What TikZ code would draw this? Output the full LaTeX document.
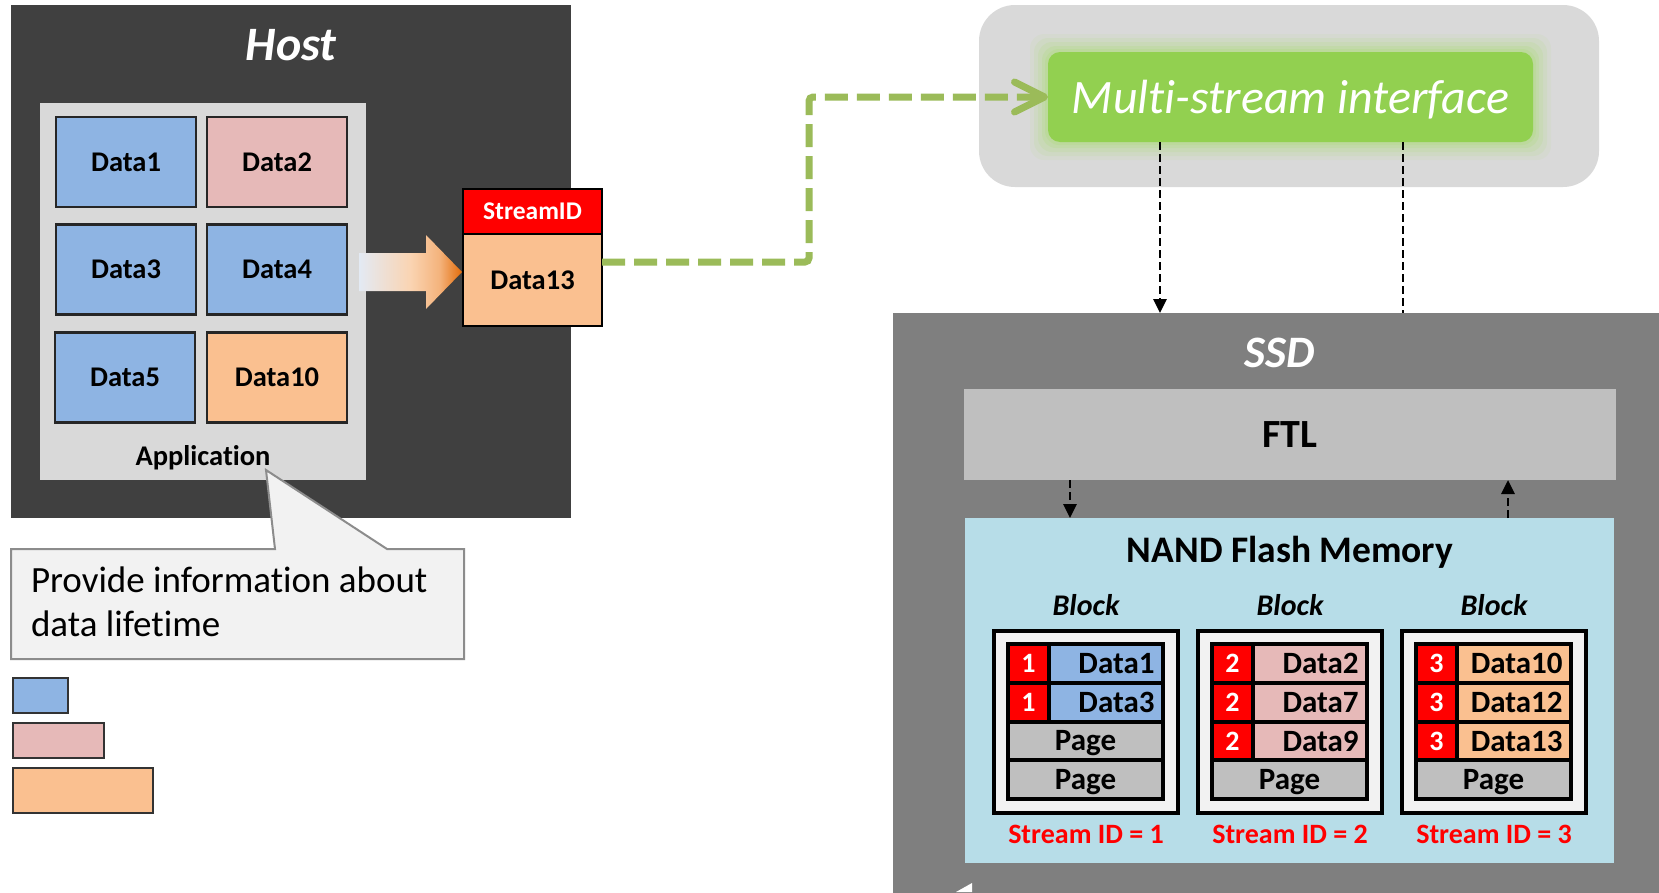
\documentclass[tikz,border=0pt]{standalone}
\usepackage{fontspec}
\setmainfont{Carlito}[Ligatures=NoCommon]
\usetikzlibrary{arrows.meta,calc}

\definecolor{hostbg}{HTML}{404040}
\definecolor{appbg}{HTML}{D9D9D9}
\definecolor{dblue}{HTML}{8EB4E3}
\definecolor{dpink}{HTML}{E6B9B8}
\definecolor{dorange}{HTML}{FAC090}
\definecolor{boxline}{HTML}{262626}
\definecolor{ssdbg}{HTML}{7F7F7F}
\definecolor{ftlbg}{HTML}{BFBFBF}
\definecolor{nandbg}{HTML}{B7DDE8}
\definecolor{blockbg}{HTML}{F2F2F2}
\definecolor{msgray}{HTML}{D9D9D9}
\definecolor{msgreen}{HTML}{92D050}
\definecolor{glowgreen}{HTML}{B5D98A}
\definecolor{linkgreen}{HTML}{9BBB59}
\definecolor{calloutbg}{HTML}{F2F2F2}
\definecolor{calloutline}{HTML}{8C8C8C}
\definecolor{legline}{HTML}{333333}
\definecolor{arrowpale}{HTML}{E3EAF4}
\definecolor{arrowmid}{HTML}{FAD4B2}
\definecolor{arrowpeach}{HTML}{F4B37C}
\definecolor{arroworange}{HTML}{E46C0A}

% fill of the wide arrow from the application to the tagged write
\pgfdeclarehorizontalshading{hintarrow}{100bp}{%
  color(0bp)=(arrowpale); color(25bp)=(arrowpale);
  color(50bp)=(arrowmid); color(64bp)=(arrowpeach);
  color(75bp)=(arroworange); color(100bp)=(arroworange)}

\newcommand\fsz[1]{\fontsize{#1}{#1}\selectfont}

% one stream-tagged page: red stream number + coloured data cell
\newcommand\datarow[6]{%
  \node[datacell, fill=#6] (#1d) at (#2+112,#3) {#5};
  \node[numcell] (#1n) at (#2+34.5,#3) {#4};
}
% one free page spanning the whole row
\newcommand\pagerow[3]{%
  \node[pagecell] (#1p) at (#2+91.5,#3) {Page};
}

\begin{document}
\begin{tikzpicture}[x=1pt,y=-1pt,
  every node/.style={inner sep=0pt,outer sep=0pt},
  box/.style 2 args={minimum width=#1,minimum height=#2},
  appdata/.style={draw=boxline,line width=2.5pt,box={140pt}{90pt},font=\bfseries\fsz{28.5}},
  legbar/.style={draw=legline,line width=2.5pt},
  blockbox/.style={draw=black,line width=3.5pt,fill=blockbg,box={184pt}{182pt}},
  numcell/.style={draw=black,line width=4pt,fill=red,text=white,font=\bfseries\fsz{28},box={41pt}{38.75pt},text depth=0pt},
  datacell/.style={draw=black,line width=4pt,box={114pt}{38.75pt},font=\bfseries\fsz{31},text width=97pt,align=right,text depth=0pt},
  pagecell/.style={draw=black,line width=4pt,fill=ftlbg,box={155pt}{38.75pt},font=\bfseries\fsz{31},text depth=0pt},
  blocklabel/.style={font=\bfseries\itshape\fsz{30},anchor=base},
  streamlabel/.style={font=\bfseries\fsz{28},text=red,anchor=base},
  greenlink/.style={draw=linkgreen,line width=7pt,dash pattern=on 23pt off 9pt,rounded corners=4pt,
    -{Straight Barb[length=30pt,width=30pt,line cap=round,line join=round]}},
  blackdash/.style={draw=black,line width=2.8pt,dash pattern=on 8pt off 4pt},
  tri/.style={-{Triangle[length=14pt,width=13pt]}}]

\useasboundingbox (0,0) rectangle (1659,892);
\fill[white] (0,0) rectangle (1659,892);

% ---------------- host side ----------------
\node[fill=hostbg,box={560pt}{513pt}] (host) at (291,261.5) {};
\node[text=white,font=\bfseries\itshape\fsz{48},anchor=base] (hosttitle) at (291,60) {Host};

\node[fill=appbg,box={326pt}{377pt}] (app) at (203,291.5) {};
\node[font=\bfseries\fsz{28.5},anchor=base] (applabel) at (203,465) {Application};

\node[appdata,fill=dblue]   (a1)  at (126,162)   {Data1};
\node[appdata,fill=dpink]   (a2)  at (277,162)   {Data2};
\node[appdata,fill=dblue]   (a3)  at (126,269.5) {Data3};
\node[appdata,fill=dblue]   (a4)  at (277,269.5) {Data4};
\node[appdata,fill=dblue]   (a5)  at (125,377.5) {Data5};
\node[appdata,fill=dorange] (a10) at (277,377.5) {Data10};

% tagged write leaving the application
\node[draw=black,line width=2.5pt,fill=red,text=white,box={139pt}{45pt},font=\bfseries\fsz{25.5}] (sid) at (532.5,211.5) {StreamID};
\node[draw=black,line width=2.5pt,fill=dorange,box={139pt}{92pt},font=\bfseries\fsz{28.5}] (d13) at (532.5,280) {Data13};

\shade[shading=hintarrow] (359,253) -- (426,253) -- (426,235) -- (462,272) -- (426,309) -- (426,291) -- (359,291) -- cycle;

% callout under the application
\draw[fill=calloutbg,draw=calloutline,line width=2pt]
  (11,549) -- (275,549) -- (266,470) -- (387,549) -- (464,549) -- (464,659) -- (11,659) -- cycle;
\node[anchor=north west,align=left,font=\fontsize{37}{44}\selectfont] (note) at (31,567)
  {Provide information about\\data lifetime};

% lifetime legend bars
\node[legbar,fill=dblue,box={55pt}{35pt}]   (legblue)   at (40.5,695.5) {};
\node[legbar,fill=dpink,box={91pt}{35pt}]   (legpink)   at (58.5,740.5) {};
\node[legbar,fill=dorange,box={140pt}{45pt}] (legorange) at (83,790.5) {};

% ---------------- multi-stream interface ----------------
\node[fill=msgray,rounded corners=36pt,box={620pt}{182pt}] (msbg) at (1289,96) {};
\foreach \g/\o in {18/0.10,14/0.16,10/0.22,6/0.30,3/0.40}
  \fill[glowgreen,opacity=\o,rounded corners=14pt] (1048-\g,52-\g) rectangle (1533+\g,142+\g);
\node[fill=msgreen,rounded corners=12pt,box={485pt}{90pt},text=white,font=\itshape\fsz{48},text depth=0pt] (ms) at (1290.5,97) {Multi-stream interface};

% ---------------- SSD ----------------
\node[fill=ssdbg,box={780pt}{590pt},anchor=north west] (ssd) at (893,313) {};
\fill[white] (956,892) -- (972,883) -- (972,892) -- cycle;
\node[text=white,font=\bfseries\itshape\fsz{45},anchor=base] (ssdtitle) at (1280,367) {SSD};

\node[fill=ftlbg,box={652pt}{91pt},font=\bfseries\fsz{40}] (ftl) at (1290,434.5) {FTL};
\node[fill=nandbg,box={649pt}{345pt}] (nand) at (1289.5,690.5) {};
\node[font=\bfseries\fsz{37.5},anchor=base] (nandtitle) at (1290,562) {NAND Flash Memory};

% blocks
\foreach \b/\L in {1/994,2/1198,3/1402}{
  \node[blockbox] (blk\b) at (\L+92,722) {};
  \node[blocklabel] (blklabel\b) at (\L+92,615) {Block};
  \node[streamlabel] (sidlabel\b) at (\L+92,843) {Stream ID = \b};
}
\datarow{b1r1}{994}{663.375}{1}{Data1}{dblue}
\datarow{b1r2}{994}{702.125}{1}{Data3}{dblue}
\pagerow{b1r3}{994}{740.875}
\pagerow{b1r4}{994}{779.625}

\datarow{b2r1}{1198}{663.375}{2}{Data2}{dpink}
\datarow{b2r2}{1198}{702.125}{2}{Data7}{dpink}
\datarow{b2r3}{1198}{740.875}{2}{Data9}{dpink}
\pagerow{b2r4}{1198}{779.625}

\datarow{b3r1}{1402}{663.375}{3}{Data10}{dorange}
\datarow{b3r2}{1402}{702.125}{3}{Data12}{dorange}
\datarow{b3r3}{1402}{740.875}{3}{Data13}{dorange}
\pagerow{b3r4}{1402}{779.625}

% ---------------- connectors ----------------
\coordinate (bend) at (809,97);
\draw[greenlink] ([yshift=18pt]d13.east) -| (bend) -- (ms.west);

\coordinate (lx) at (1160,0);
\coordinate (rx) at (1403,0);
\draw[blackdash,tri] (lx |- ms.south) -- (lx |- ssd.north);
\draw[blackdash] (rx |- ms.south) -- (rx |- ssd.north);

\coordinate (fl) at (1070,0);
\coordinate (fr) at (1508,0);
\draw[blackdash,tri] (fl |- ftl.south) -- (fl |- nand.north);
\draw[blackdash,tri] (fr |- nand.north) -- (fr |- ftl.south);
\end{tikzpicture}
\end{document}
